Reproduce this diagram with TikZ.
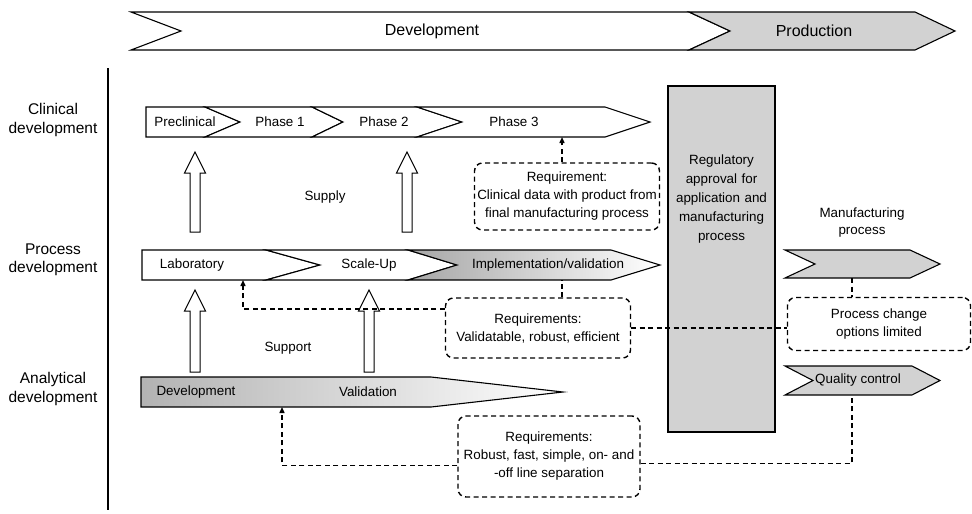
\documentclass[tikz,border=0pt]{standalone}
\usepackage{fontspec}
\setmainfont{Liberation Sans}
\usetikzlibrary{arrows.meta}

\definecolor{boxgray}{RGB}{210,210,210}
\newcommand{\rowfont}{\fontsize{15.5}{18.5}\selectfont}
\newcommand{\txtfont}{\fontsize{13.4}{18}\selectfont}

\tikzset{
  chev/.style={draw, line width=1.1pt, line join=miter},
  req/.style={draw, dash pattern=on 5pt off 3.5pt, line width=1.4pt},
  reqbox/.style={req, rounded corners=8pt, align=center, inner sep=0pt, font=\txtfont},
  txt/.style={inner sep=1pt, font=\txtfont, align=center},
  lbl/.style={inner sep=0pt, font=\rowfont, align=center},
  hollow/.style={draw, line width=1pt, fill=white},
  tip/.style={-{Triangle[length=6pt,width=5pt]}}
}

\begin{document}
\begin{tikzpicture}[x=1pt, y=-1pt, line width=1.1pt]
    \useasboundingbox (0,0) rectangle (972,514);

    % Development / Production banner
    \draw[chev, fill=white] (131,12) -- (689,12) -- (730,31) -- (689,50) -- (131,50) -- (181,31) -- cycle;
    \draw[chev, fill=boxgray] (689,12) -- (915,12) -- (955,31) -- (915,50) -- (689,50) -- (730,31) -- cycle;
    \node[lbl, font=\fontsize{16}{19}\selectfont] (dev) at (432,31) {Development};
    \node[lbl, font=\fontsize{16}{19}\selectfont] (prod) at (814,31) {Production};

    % Row axis and row labels
    \draw (108,68) -- (108,510);
    \node[lbl] (clin) at (53,120) {Clinical\\development};
    \node[lbl] (proc) at (53,260) {Process\\development};
    \node[lbl] (anal) at (53,389) {Analytical\\development};

    % Clinical phases
    \foreach \a/\b/\c/\d in {146/146/205/240, 205/240/312/343, 312/343/417/462, 417/462/605/650}
        \draw[chev, fill=white] (\a,107) -- (\c,107) -- (\d,122) -- (\c,137) -- (\a,137) -- (\b,122) -- cycle;
    \node[txt] (precl) at (185,122) {Preclinical};
    \node[txt] (ph1) at (280,122) {Phase 1};
    \node[txt] (ph2) at (384,122) {Phase 2};
    \node[txt] (ph3) at (514,122) {Phase 3};
    \coordinate (ph3bot) at (562,137);

    % Process steps
    \foreach \a/\b/\c/\d in {142/142/266/320, 266/320/408/457}
        \draw[chev, fill=white] (\a,250) -- (\c,250) -- (\d,265) -- (\c,280) -- (\a,280) -- (\b,265) -- cycle;
    \draw[chev, left color=gray!70, right color=white] (408,250) -- (611,250) -- (660,265) -- (611,280) -- (408,280) -- (457,265) -- cycle;
    \node[txt] (lab) at (192,265) {Laboratory};
    \node[txt] (scale) at (369,265) {Scale-Up};
    \node[txt] (impl) at (548,265) {Implementation/validation};
    \coordinate (labbot) at (243,280);
    \coordinate (implbot) at (562,280);

    % Analytical methods
    \draw[chev, left color=gray!60, right color=white] (141,377) -- (431,377) -- (563,392) -- (431,407) -- (141,407) -- cycle;
    \node[txt] (adev) at (196,392) {Development};
    \node[txt] (aval) at (368,392) {Validation};
    \coordinate (devbot) at (282,407);

    % Supply and support arrows
    \foreach \x/\ya/\yb in {195/232/152, 407/232/152, 195/372/290, 369/372/290}
        \draw[hollow] (\x-5,\ya) -- (\x-5,\yb+21) -- (\x-10.5,\yb+21) -- (\x,\yb)
            -- (\x+10.5,\yb+21) -- (\x+5,\yb+21) -- (\x+5,\ya) -- cycle;
    \node[txt] (supply) at (325,197) {Supply};
    \node[txt] (support) at (288,348) {Support};

    % Regulatory approval
    \node[draw, fill=boxgray, line width=1.3pt, minimum width=107pt, minimum height=346pt, inner sep=0pt] (reg) at (721.5,259) {};
    \node[txt, text width=105pt, font=\fontsize{13.4}{19}\selectfont] (regtxt) at (721.5,199) {Regulatory\\approval for\\application and\\manufacturing\\process};

    % Production side
    \node[txt, font=\fontsize{13.4}{17}\selectfont] (mfglbl) at (862,223) {Manufacturing\\process};
    \draw[chev, fill=boxgray] (785,250) -- (910,250) -- (940,264) -- (910,278) -- (785,278) -- (815,264) -- cycle;
    \coordinate (mfgbot) at (852,278);
    \draw[chev, fill=boxgray] (785,366) -- (912,366) -- (940,380.5) -- (912,395) -- (785,395) -- (813,380.5) -- cycle;
    \node[txt] (qc) at (858,380.5) {Quality control};
    \coordinate (qcbot) at (852,395);

    % Requirements
    \node[reqbox, minimum width=185pt, minimum height=67pt] (req1) at (567,196.5) {Requirement:\\Clinical data with product from\\final manufacturing process};
    \node[reqbox, minimum width=185pt, minimum height=60pt] (req2) at (538,328) {Requirements:\\Validatable, robust, efficient};
    \node[reqbox, minimum width=182pt, minimum height=81pt] (req3) at (549,456.5) {Requirements:\\Robust, fast, simple, on- and\\-off line separation};
    \node[reqbox, minimum width=183pt, minimum height=53pt] (pchange) at (879,324) {Process change\\options limited};

    % Requirement links
    \draw[req, tip] (req1.north -| ph3bot) -- (ph3bot);
    \draw[req] (req2.north -| implbot) -- (implbot);
    \draw[req, tip] ([yshift=19pt]req2.west) -| (labbot);
    \draw[req] (req2.east) -- (req2.east -| pchange.west);
    \draw[req] (mfgbot) -- (mfgbot |- pchange.north);
    \draw[req, tip] ([yshift=-9pt]req3.west) -| (devbot);
    \draw[req] ([yshift=-7pt]req3.east) -| (qcbot);
\end{tikzpicture}
\end{document}
